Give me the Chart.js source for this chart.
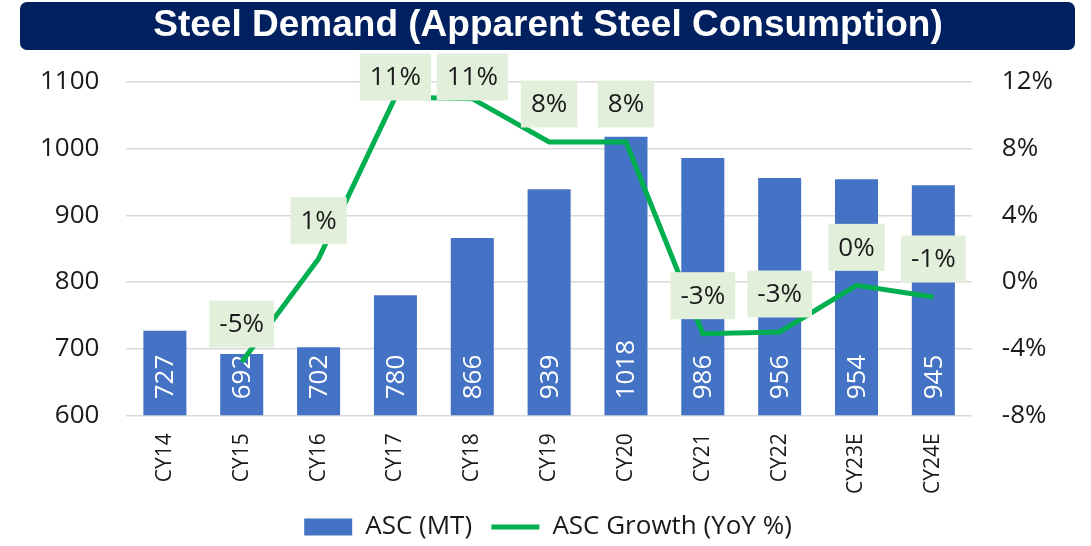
<!DOCTYPE html>
<html lang="en">
<head>
    <meta charset="UTF-8">
    <script src="https://cdn.jsdelivr.net/npm/chart.js"></script>
    <title>Steel Demand</title>
    <style>
        html, body { margin: 0; padding: 0; background: #fff; }
        #wrap { width: 1091px; height: 546px; }
    </style>
</head>
<body>
    <div id="wrap"><canvas id="steelChart"></canvas></div>
    <script>
        const years = ['CY14', 'CY15', 'CY16', 'CY17', 'CY18', 'CY19', 'CY20', 'CY21', 'CY22', 'CY23E', 'CY24E'];
        const asc = [727, 692, 702, 780, 866, 939, 1018, 986, 956, 954, 945];
        const growth = [null, -4.8, 1.4, 11.1, 11.0, 8.4, 8.4, -3.1, -3.0, -0.2, -0.9];
        const leftTicks = [600, 700, 800, 900, 1000, 1100];
        const rightTicks = [-8, -4, 0, 4, 8, 12];

        const FONT = '"Open Sans", "Noto Sans", sans-serif';
        const TEXT = '#1a1a1a';

        // navy rounded banner behind the title
        const banner = {
            id: 'banner',
            beforeDraw(chart) {
                const ctx = chart.ctx;
                const tb = chart.titleBlock;
                ctx.save();
                ctx.fillStyle = '#002060';
                ctx.beginPath();
                ctx.roundRect(20, tb.top, chart.width - 36, 48, 7);
                ctx.fill();
                ctx.restore();
            }
        };

        function drawBarValues(chart) {
            const ctx = chart.ctx;
            const meta = chart.getDatasetMeta(0);
            const base = chart.scales.y.getPixelForValue(leftTicks[0]);
            ctx.save();
            ctx.font = '26px ' + FONT;
            ctx.fillStyle = '#ffffff';
            ctx.textAlign = 'left';
            ctx.textBaseline = 'middle';
            meta.data.forEach((bar, i) => {
                ctx.save();
                ctx.translate(bar.x, base - 16);
                ctx.rotate(-Math.PI / 2);
                ctx.fillText(String(asc[i]), 0, 1);
                ctx.restore();
            });
            ctx.restore();
        }

        // white vertical values at the base of each bar, drawn just before the line
        const barValues = {
            id: 'barValues',
            beforeDatasetDraw(chart, args) {
                if (args.index === 1) drawBarValues(chart);
            }
        };

        // green boxed percentage labels above the line points
        const growthLabels = {
            id: 'growthLabels',
            afterDatasetsDraw(chart) {
                const ctx = chart.ctx;
                const meta = chart.getDatasetMeta(1);
                ctx.save();
                ctx.font = '26px ' + FONT;
                ctx.textAlign = 'center';
                ctx.textBaseline = 'middle';
                meta.data.forEach((pt, i) => {
                    if (growth[i] === null) return;
                    const txt = `${Math.round(growth[i])}%`;
                    const w = ctx.measureText(txt).width + 20;
                    const h = 47;
                    let cy = pt.y - 38;
                    if (cy < 77) cy = 77;
                    ctx.fillStyle = '#E2EFDA';
                    ctx.fillRect(pt.x - w / 2, cy - h / 2, w, h);
                    ctx.fillStyle = TEXT;
                    ctx.fillText(txt, pt.x, cy + 1);
                });
                ctx.restore();
            }
        };

        new Chart(document.getElementById('steelChart'), {
            type: 'bar',
            data: {
                labels: years,
                datasets: [{
                    label: 'ASC (MT)',
                    data: asc,
                    backgroundColor: '#4472C4',
                    barPercentage: 0.56,
                    categoryPercentage: 1,
                    yAxisID: 'y',
                    order: 1
                }, {
                    type: 'line',
                    label: 'ASC Growth (YoY %)',
                    data: growth,
                    borderColor: '#00B050',
                    backgroundColor: '#00B050',
                    borderWidth: 5,
                    pointRadius: 0,
                    tension: 0,
                    yAxisID: 'y1',
                    order: 0
                }]
            },
            options: {
                responsive: true,
                maintainAspectRatio: false,
                animation: false,
                layout: { padding: { top: 2, left: 13, right: 8, bottom: -4 } },
                scales: {
                    x: {
                        grid: { display: false, drawTicks: false },
                        border: { display: false },
                        ticks: {
                            color: TEXT,
                            font: { family: FONT, size: 21 },
                            minRotation: 90,
                            maxRotation: 90,
                            padding: 18
                        }
                    },
                    y: {
                        position: 'left',
                        min: leftTicks[0],
                        max: leftTicks[leftTicks.length - 1],
                        afterBuildTicks(axis) { axis.ticks = leftTicks.map(v => ({ value: v })); },
                        grid: { color: '#d9d9d9', lineWidth: 1.5, drawTicks: false },
                        border: { display: false },
                        ticks: {
                            color: TEXT,
                            font: { family: FONT, size: 26 },
                            padding: 27,
                            callback: v => String(v)
                        }
                    },
                    y1: {
                        position: 'right',
                        min: rightTicks[0],
                        max: rightTicks[rightTicks.length - 1],
                        afterBuildTicks(axis) { axis.ticks = rightTicks.map(v => ({ value: v })); },
                        grid: { display: false, drawTicks: false },
                        border: { display: false },
                        ticks: {
                            color: TEXT,
                            font: { family: FONT, size: 26 },
                            padding: 30,
                            callback: v => v + '%'
                        }
                    }
                },
                plugins: {
                    title: {
                        display: true,
                        text: 'Steel Demand (Apparent Steel Consumption)',
                        color: '#ffffff',
                        font: { family: '"Liberation Sans", Arial, sans-serif', size: 37, weight: 'bold', lineHeight: '48px' },
                        padding: { top: 0, bottom: 32 }
                    },
                    legend: {
                        position: 'bottom',
                        labels: {
                            color: TEXT,
                            font: { family: FONT, size: 26 },
                            usePointStyle: true,
                            pointStyleWidth: 48,
                            boxHeight: 17,
                            padding: 2,
                            generateLabels(chart) {
                                const ds = chart.data.datasets;
                                return [{
                                    // trailing spaces give the gap between the two legend entries
                                    text: ds[0].label + '\u2002\u2009',
                                    fillStyle: ds[0].backgroundColor,
                                    strokeStyle: ds[0].backgroundColor,
                                    lineWidth: 0,
                                    pointStyle: 'rect',
                                    datasetIndex: 0,
                                    fontColor: TEXT
                                }, {
                                    text: ds[1].label,
                                    fillStyle: ds[1].borderColor,
                                    strokeStyle: ds[1].borderColor,
                                    lineWidth: 5,
                                    pointStyle: 'line',
                                    datasetIndex: 1,
                                    fontColor: TEXT
                                }];
                            }
                        }
                    },
                    tooltip: { enabled: false }
                }
            },
            plugins: [banner, barValues, growthLabels]
        });
    </script>
</body>
</html>
